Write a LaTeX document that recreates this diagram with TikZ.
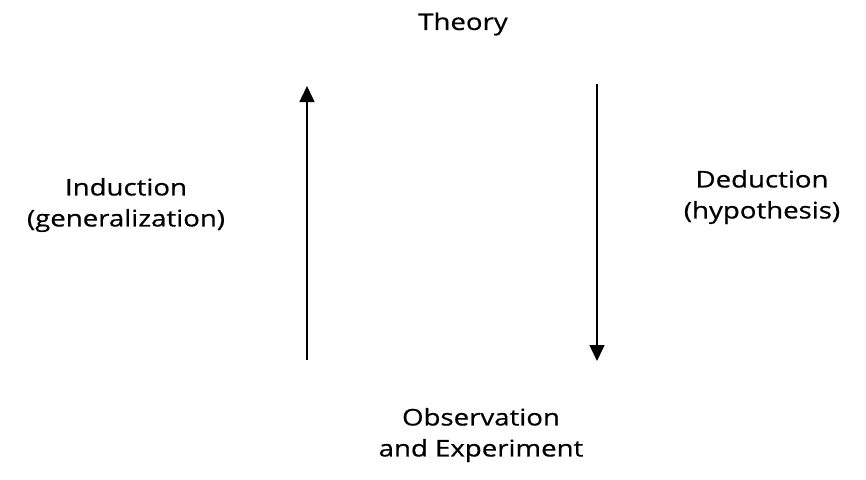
\documentclass[tikz,border=0pt]{standalone}
\usepackage{fontspec}
\setmainfont{Open Sans}[FakeStretch=1.2,FakeBold=0.6]
\usetikzlibrary{arrows.meta}
\begin{document}
\begin{tikzpicture}[x=1pt,y=-1pt,
  lbl/.style={font=\fontsize{23}{31}\selectfont, inner sep=0pt, align=center},
  arr/.style={line width=1.5pt, -{Triangle[length=16pt,width=15pt]}}]
\useasboundingbox (0,0) rectangle (866,479);
\node[lbl] (theory) at (463,24) {Theory};
\node[lbl] (ind) at (126,205) {Induction\\(generalization)};
\node[lbl] (ded) at (762,197) {Deduction\\(hypothesis)};
\node[lbl] (obs) at (481,435) {Observation\\and Experiment};
\coordinate (l0) at (307,360);
\coordinate (l1) at (307,86);
\coordinate (r0) at (597,84);
\coordinate (r1) at (597,361);
\draw[arr] (l0) -- (l1);
\draw[arr] (r0) -- (r1);
\end{tikzpicture}
\end{document}
